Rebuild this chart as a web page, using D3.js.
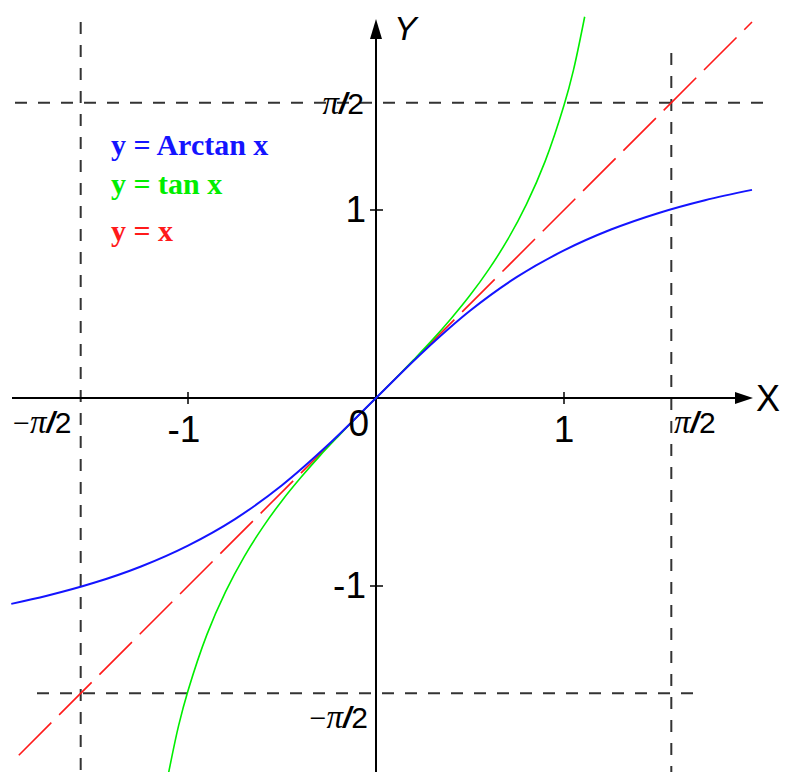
<!DOCTYPE html>
<html>
<head>
<meta charset="utf-8">
<script src="https://cdn.jsdelivr.net/npm/d3@7"></script>
<style>
  html, body { margin: 0; padding: 0; background: #fff; }
  svg { display: block; }
</style>
</head>
<body>
<script>
// Sampled points of y = Arctan x
const arctanX = [-1.94, -1.75, -1.5, -1.25, -1.0, -0.75, -0.5, -0.25, 0, 0.25, 0.5, 0.75, 1.0, 1.25, 1.5, 1.75, 2.0];
const arctanY = [-1.095, -1.052, -0.983, -0.896, -0.785, -0.644, -0.464, -0.245, 0, 0.245, 0.464, 0.644, 0.785, 0.896, 0.983, 1.052, 1.107];

// Sampled points of y = tan x
const tanX = [-1.11, -1.05, -1.0, -0.9, -0.8, -0.7, -0.6, -0.5, -0.4, -0.3, -0.2, -0.1, 0, 0.1, 0.2, 0.3, 0.4, 0.5, 0.6, 0.7, 0.8, 0.9, 1.0, 1.05, 1.11];
const tanY = [-2.028, -1.743, -1.557, -1.260, -1.030, -0.842, -0.684, -0.546, -0.423, -0.309, -0.203, -0.100, 0, 0.100, 0.203, 0.309, 0.423, 0.546, 0.684, 0.842, 1.030, 1.260, 1.557, 1.743, 2.028];

// End points of y = x
const identX = [-1.9, 2.0];
const identY = [-1.9, 2.0];

// Axis tick labels
const intTicks = [-1, 1];
const intTickLabels = ["-1", "1"];
const halfPi = Math.PI / 2;

const legendLabels = ["y = Arctan x", "y = tan x", "y = x"];
const legendColors = ["#1414ff", "#00ee00", "#ff1a1a"];

const W = 786, H = 772;
const unit = 188;
const ox = 376, oy = 398;

const x = d3.scaleLinear().domain([0, 1]).range([ox, ox + unit]);
const y = d3.scaleLinear().domain([0, 1]).range([oy, oy - unit]);

const svg = d3.select("body").append("svg")
  .attr("width", W).attr("height", H)
  .attr("viewBox", `0 0 ${W} ${H}`);

const sans = "'Liberation Sans', Arial, sans-serif";
const serif = "'Liberation Serif', 'Times New Roman', serif";

// Dashed guide lines at ±π/2
const guide = svg.append("g")
  .attr("stroke", "#333")
  .attr("stroke-width", 2)
  .attr("stroke-dasharray", "12,11")
  .attr("fill", "none");
guide.append("line").attr("x1", x(-halfPi)).attr("x2", x(-halfPi)).attr("y1", 22).attr("y2", H);
guide.append("line").attr("x1", x(halfPi)).attr("x2", x(halfPi)).attr("y1", 53).attr("y2", H);
guide.append("line").attr("x1", 15).attr("x2", 766).attr("y1", y(halfPi)).attr("y2", y(halfPi));
guide.append("line").attr("x1", 37).attr("x2", 700).attr("y1", y(-halfPi)).attr("y2", y(-halfPi));

// Axes
const axes = svg.append("g").attr("stroke", "#000").attr("stroke-width", 2);
axes.append("line").attr("x1", 12).attr("x2", 740).attr("y1", oy).attr("y2", oy);
axes.append("line").attr("x1", ox).attr("x2", ox).attr("y1", H).attr("y2", 30);
svg.append("path").attr("d", `M735,${oy - 6}L753,${oy}L735,${oy + 6}Z`).attr("fill", "#000");
svg.append("path").attr("d", `M${ox - 6},39L${ox},19L${ox + 6},39Z`).attr("fill", "#000");

// Tick marks
intTicks.forEach(t => {
  axes.append("line").attr("x1", x(t)).attr("x2", x(t)).attr("y1", oy - 6).attr("y2", oy + 6).attr("stroke-width", 1.5);
  axes.append("line").attr("x1", ox - 6).attr("x2", ox + 7).attr("y1", y(t)).attr("y2", y(t)).attr("stroke-width", 1.5);
});

// Curves
const line = d3.line().x(d => x(d[0])).y(d => y(d[1])).curve(d3.curveCatmullRom);
svg.append("defs").append("clipPath").attr("id", "plot")
  .append("rect").attr("x", 0).attr("y", 0).attr("width", W).attr("height", H);
const curves = svg.append("g").attr("clip-path", "url(#plot)").attr("fill", "none");

curves.append("path")
  .datum(d3.zip(identX, identY))
  .attr("d", line)
  .attr("stroke", legendColors[2]).attr("stroke-width", 1.6)
  .attr("stroke-dasharray", "46,11");

curves.append("path")
  .datum(d3.zip(tanX, tanY))
  .attr("d", line)
  .attr("stroke", legendColors[1]).attr("stroke-width", 1.6);

curves.append("path")
  .datum(d3.zip(arctanX, arctanY))
  .attr("d", line)
  .attr("stroke", legendColors[0]).attr("stroke-width", 2);

// Integer tick labels
const numFont = 37;
svg.append("text").attr("x", x(-1) - 4).attr("y", 442).attr("text-anchor", "middle")
  .attr("font-family", sans).attr("font-size", numFont).text(intTickLabels[0]);
svg.append("text").attr("x", x(1)).attr("y", 442).attr("text-anchor", "middle")
  .attr("font-family", sans).attr("font-size", numFont).text(intTickLabels[1]);
svg.append("text").attr("x", 369).attr("y", 436).attr("text-anchor", "end")
  .attr("font-family", sans).attr("font-size", numFont).text("0");
svg.append("text").attr("x", 366).attr("y", y(1) + 12).attr("text-anchor", "end")
  .attr("font-family", sans).attr("font-size", numFont).text(intTickLabels[1]);
svg.append("text").attr("x", 366).attr("y", y(-1) + 12).attr("text-anchor", "end")
  .attr("font-family", sans).attr("font-size", numFont).text(intTickLabels[0]);

// π/2 labels
function piLabel(px, py, anchor, neg) {
  const t = svg.append("text").attr("x", px).attr("y", py).attr("text-anchor", anchor)
    .attr("font-size", 30);
  if (neg) t.append("tspan").attr("font-family", serif).text("\u2212");
  t.append("tspan").attr("font-family", serif).attr("font-style", "italic").attr("font-size", 33).text("\u03c0");
  t.append("tspan").attr("font-family", sans).attr("font-style", "italic").attr("font-weight", "bold").text("/");
  t.append("tspan").attr("font-family", sans).text("2");
}
piLabel(364, y(halfPi) + 11, "end", false);
piLabel(368, 728, "end", true);
piLabel(13, 433, "start", true);
piLabel(674, 433, "start", false);

// Axis names
svg.append("text").attr("x", 756).attr("y", 411).attr("font-family", sans).attr("font-size", 36).text("X");
svg.append("text").attr("x", 394).attr("y", 40).attr("font-family", sans).attr("font-style", "italic").attr("font-size", 34).text("Y");

// Legend
const legendY = [155, 194, 241];
legendLabels.forEach((s, i) => {
  svg.append("text").attr("x", 111).attr("y", legendY[i])
    .attr("font-family", serif).attr("font-weight", "bold").attr("font-size", 30)
    .attr("fill", legendColors[i]).text(s);
});
</script>
</body>
</html>
